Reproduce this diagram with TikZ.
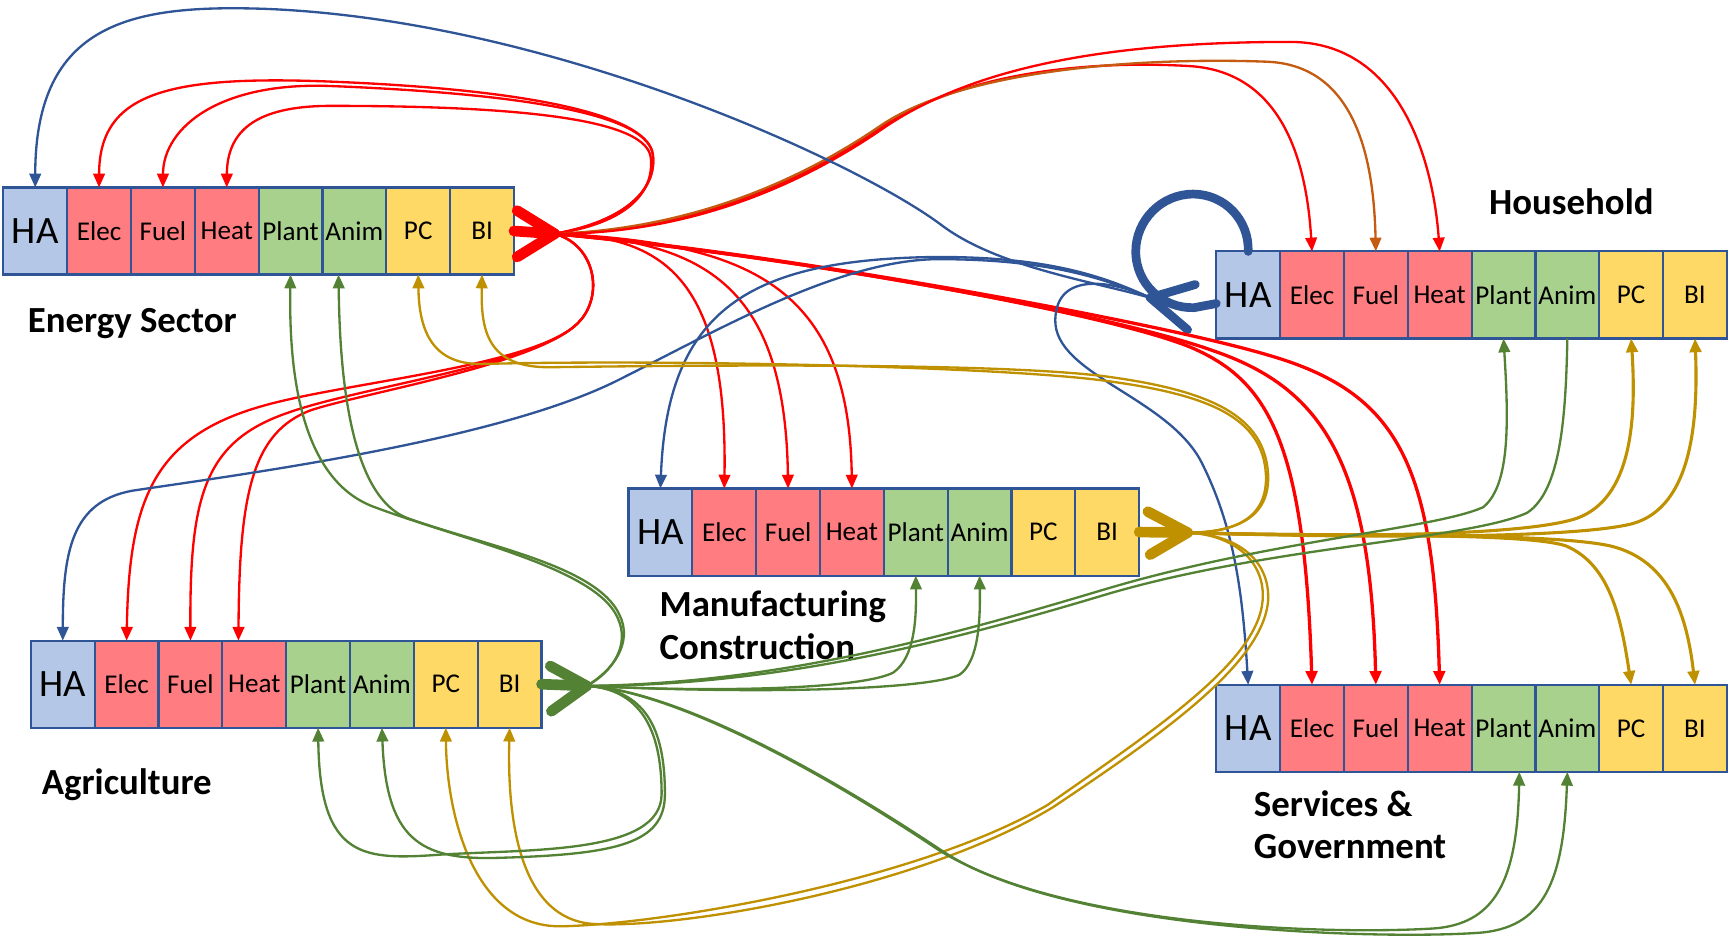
\documentclass[tikz,border=0pt]{standalone}
\usepackage{fontspec}
\setmainfont{Carlito}
\usepackage{xcolor}
\usepackage{tikz}
\usetikzlibrary{arrows.meta, positioning}

\definecolor{habox}{HTML}{B4C7E7}
\definecolor{enbox}{HTML}{FF7C80}
\definecolor{biobox}{HTML}{A9D18E}
\definecolor{prodbox}{HTML}{FFD966}
\definecolor{edgeblue}{HTML}{2F5597}
\definecolor{flowred}{HTML}{FF0000}
\definecolor{flowfuel}{HTML}{C55A11}
\definecolor{flowblue}{HTML}{2F5597}
\definecolor{flowgreen}{HTML}{548235}
\definecolor{flowgold}{HTML}{BF9000}

% one sector strip: #1 = prefix, (#2,#3) = top left corner
\newcommand{\drawsector}[3]{%
  \node[cell, fill=habox, font=\fontsize{20}{22}\selectfont, anchor=north west] (#1-HA) at (#2,#3) {HA};
  \foreach \cellname/\cellfill [remember=\cellname as \prevname (initially HA)] in
      {Elec/enbox, Fuel/enbox, Heat/enbox, Plant/biobox, Anim/biobox, PC/prodbox, BI/prodbox}
    \node[cell, fill=\cellfill, right=0pt of #1-\prevname] (#1-\cellname) {\cellname};
}

\begin{document}
\begin{tikzpicture}[x=0.02cm, y=-0.02cm,
    cell/.style={rectangle, draw=edgeblue, line width=1.1pt, minimum width=11.58mm, minimum height=15.8mm,
                 inner sep=0pt, outer sep=0pt, font=\fontsize{14}{16}\selectfont},
    flow/.style={#1, line width=1.2pt, -{Triangle[length=2.5mm, width=2.1mm]}},
    chev/.style={#1, line width=5.5pt, line cap=round, line join=round},
    sectorname/.style={font=\fontsize{19}{22}\selectfont\bfseries}]
    \useasboundingbox (0,0) rectangle (1568,850);

    % Sector strips
    \drawsector{es}{3}{170}
    \drawsector{hh}{1103}{228}
    \drawsector{mc}{570}{443}
    \drawsector{ag}{28}{581}
    \drawsector{sg}{1103}{621}

    % Sector names
    \node[sectorname] (es-name) at (120,293) {Energy Sector};
    \node[sectorname] (hh-name) at (1425,183) {Household};
    \node[sectorname, align=left, anchor=west] (mc-name) at (592,567) {Manufacturing\\Construction};
    \node[sectorname] (ag-name) at (115,712) {Agriculture};
    \node[sectorname, align=left, anchor=west] (sg-name) at (1131,748) {Services \&\\Government};

    % Output hubs
    \coordinate (es-hub) at (503,212);
    \coordinate (mc-hub) at (1077,483);
    \coordinate (ag-hub) at (532,622);
    \coordinate (hh-hub) at (1043,270);

    \draw[chev=flowred] (es-BI.east) -- (es-hub);
    \draw[chev=flowred] (es-hub) ++(-34,-21) -- (es-hub) -- ++(-34,21);
    \draw[chev=flowgold] (mc-BI.east) -- (mc-hub);
    \draw[chev=flowgold] (mc-hub) ++(-36,-19) -- (mc-hub) -- ++(-34,20);
    \draw[chev=flowgreen] (ag-BI.east) -- (ag-hub);
    \draw[chev=flowgreen] (ag-hub) ++(-33,-18) -- (ag-hub) -- ++(-32,23);
    \draw[chev=flowblue, line width=4.5pt] (hh-HA.north) .. controls (1133,200) and (1111,176) .. (1082,176)
        .. controls (1053,176) and (1030,200) .. (1030,228) .. controls (1030,258) and (1055,280) .. (1083,279) -- (hh-HA.195);
    \draw[chev=flowblue, line width=4.5pt] (hh-hub) ++(41,-12) -- (hh-hub) -- ++(34,29);

    % Energy sector outputs
    \draw[flow=flowred] (es-hub) .. controls (570,200) and (596,170) .. (592,140) .. controls (588,108) and (500,82) .. (300,74) .. controls (150,68) and (90,85) .. (es-Elec.north);
    \draw[flow=flowred] (es-hub) .. controls (570,200) and (596,170) .. (592,140) .. controls (588,108) and (500,86) .. (300,78) .. controls (200,74) and (148,115) .. (es-Fuel.north);
    \draw[flow=flowred] (es-hub) .. controls (572,202) and (594,172) .. (590,142) .. controls (584,105) and (450,96) .. (300,96) .. controls (230,96) and (206,120) .. (es-Heat.north);
    \draw[flow=flowred] (es-hub) .. controls (620,210) and (720,170) .. (800,115) .. controls (880,62) and (1000,55) .. (1080,60) .. controls (1165,66) and (1185,150) .. (hh-Elec.north);
    \draw[flow=flowfuel] (es-hub) .. controls (620,208) and (720,168) .. (800,113) .. controls (880,60) and (1050,52) .. (1150,56) .. controls (1232,60) and (1246,150) .. (hh-Fuel.north);
    \draw[flow=flowred] (es-hub) .. controls (620,212) and (720,172) .. (800,117) .. controls (880,62) and (1000,38) .. (1170,38) .. controls (1272,38) and (1300,150) .. (hh-Heat.north);
    \draw[flow=flowred] (es-hub) .. controls (600,214) and (660,250) .. (mc-Elec.north);
    \draw[flow=flowred] (es-hub) .. controls (640,218) and (712,260) .. (mc-Fuel.north);
    \draw[flow=flowred] (es-hub) .. controls (680,220) and (770,260) .. (mc-Heat.north);
    \draw[flow=flowred] (es-hub) .. controls (540,222) and (548,268) .. (525,292) .. controls (490,330) and (330,345) .. (250,365) .. controls (140,392) and (117,450) .. (ag-Elec.north);
    \draw[flow=flowred] (es-hub) .. controls (540,222) and (548,268) .. (525,292) .. controls (490,330) and (330,350) .. (262,374) .. controls (185,400) and (172,450) .. (ag-Fuel.north);
    \draw[flow=flowred] (es-hub) .. controls (540,222) and (548,268) .. (525,292) .. controls (490,330) and (330,356) .. (282,372) .. controls (228,392) and (217,450) .. (ag-Heat.110);
    \draw[flow=flowred, line width=1.7pt] (es-hub) .. controls (700,230) and (1000,282) .. (1080,315) .. controls (1150,345) and (1183,400) .. (sg-Elec.north);
    \draw[flow=flowred, line width=1.7pt] (es-hub) .. controls (700,230) and (1000,282) .. (1100,318) .. controls (1200,352) and (1243,420) .. (sg-Fuel.north);
    \draw[flow=flowred, line width=1.7pt] (es-hub) .. controls (700,228) and (1050,292) .. (1150,322) .. controls (1268,356) and (1300,420) .. (sg-Heat.north);

    % Household outputs
    \draw[flow=flowblue] (hh-hub) .. controls (990,255) and (905,242) .. (855,205) .. controls (780,148) and (500,18) .. (240,8) .. controls (120,4) and (32,20) .. (es-HA.north);
    \draw[flow=flowblue] (hh-hub) .. controls (1000,250) and (950,233) .. (850,233) .. controls (680,235) and (605,280) .. (mc-HA.north);
    \draw[flow=flowblue] (hh-hub) .. controls (1000,252) and (950,235) .. (850,235) .. controls (760,236) and (650,300) .. (560,345) .. controls (450,400) and (220,430) .. (120,445) .. controls (65,455) and (57,500) .. (ag-HA.north);
    \draw[flow=flowblue] (hh-hub) .. controls (1010,255) and (958,245) .. (957,290) .. controls (956,340) and (1060,360) .. (1090,420) .. controls (1120,480) and (1127,540) .. (sg-HA.north);

    % Manufacturing outputs
    \draw[flow=flowgold, line width=1.6pt] (mc-hub) .. controls (1200,487) and (1380,487) .. (1430,470) .. controls (1480,452) and (1484,380) .. (hh-PC.south);
    \draw[flow=flowgold, line width=1.6pt] (mc-hub) .. controls (1200,487) and (1420,490) .. (1480,475) .. controls (1535,460) and (1540,380) .. (hh-BI.south);
    \draw[flow=flowgold, line width=1.6pt] (mc-hub) .. controls (1200,487) and (1380,482) .. (1420,495) .. controls (1460,512) and (1470,560) .. (sg-PC.north);
    \draw[flow=flowgold, line width=1.6pt] (mc-hub) .. controls (1200,487) and (1400,482) .. (1460,495) .. controls (1515,508) and (1530,560) .. (sg-BI.north);
    \draw[flow=flowgold] (mc-hub) .. controls (1120,483) and (1150,470) .. (1148,430) .. controls (1145,380) and (1100,358) .. (1000,345) .. controls (900,332) and (600,326) .. (440,330) .. controls (392,332) and (380,300) .. (es-PC.south);
    \draw[flow=flowgold] (mc-hub) .. controls (1120,483) and (1152,470) .. (1150,430) .. controls (1147,378) and (1100,354) .. (1000,341) .. controls (900,329) and (650,331) .. (500,333) .. controls (442,334) and (436,300) .. (es-BI.south);
    \draw[flow=flowgold] (mc-hub) .. controls (1120,485) and (1148,510) .. (1145,545) .. controls (1140,600) and (1050,660) .. (950,730) .. controls (830,800) and (600,838) .. (510,840) .. controls (430,842) and (405,740) .. (ag-PC.south);
    \draw[flow=flowgold] (mc-hub) .. controls (1125,485) and (1152,510) .. (1150,545) .. controls (1145,602) and (1055,665) .. (955,732) .. controls (835,805) and (620,842) .. (540,838) .. controls (470,835) and (460,740) .. (ag-BI.south);

    % Agriculture outputs
    \draw[flow=flowgreen] (ag-hub) .. controls (555,610) and (572,585) .. (560,560) .. controls (540,515) and (420,490) .. (340,460) .. controls (270,435) and (262,330) .. (es-Plant.south);
    \draw[flow=flowgreen] (ag-hub) .. controls (556,608) and (574,583) .. (562,558) .. controls (542,513) and (440,495) .. (370,470) .. controls (315,450) and (308,330) .. (es-Anim.-110);
    \draw[flow=flowgreen] (ag-hub) .. controls (650,628) and (780,625) .. (810,610) .. controls (830,596) and (831,560) .. (mc-Plant.south);
    \draw[flow=flowgreen] (ag-hub) .. controls (700,630) and (840,625) .. (870,612) .. controls (888,600) and (889,560) .. (mc-Anim.south);
    \draw[flow=flowgreen] (ag-hub) .. controls (700,620) and (850,580) .. (1000,535) .. controls (1150,490) and (1300,480) .. (1345,460) .. controls (1370,440) and (1368,380) .. (hh-Plant.south);
    \draw[flowgreen, line width=1.2pt] (ag-hub) .. controls (700,622) and (850,585) .. (1000,540) .. controls (1150,495) and (1330,490) .. (1385,465) .. controls (1415,445) and (1420,380) .. (hh-Anim.south);
    \draw[flow=flowgreen] (ag-hub) .. controls (590,625) and (700,670) .. (850,770) .. controls (960,840) and (1200,848) .. (1300,842) .. controls (1355,838) and (1376,800) .. (sg-Plant.-70);
    \draw[flow=flowgreen] (ag-hub) .. controls (594,625) and (705,672) .. (855,772) .. controls (965,845) and (1250,852) .. (1340,846) .. controls (1400,842) and (1418,800) .. (sg-Anim.south);
    \draw[flow=flowgreen] (ag-hub) .. controls (580,625) and (600,660) .. (600,720) .. controls (600,775) and (480,770) .. (400,775) .. controls (330,780) and (290,780) .. (ag-Plant.south);
    \draw[flow=flowgreen] (ag-hub) .. controls (585,625) and (603,660) .. (603,720) .. controls (603,765) and (560,775) .. (450,778) .. controls (380,780) and (350,760) .. (ag-Anim.south);
\end{tikzpicture}
\end{document}
